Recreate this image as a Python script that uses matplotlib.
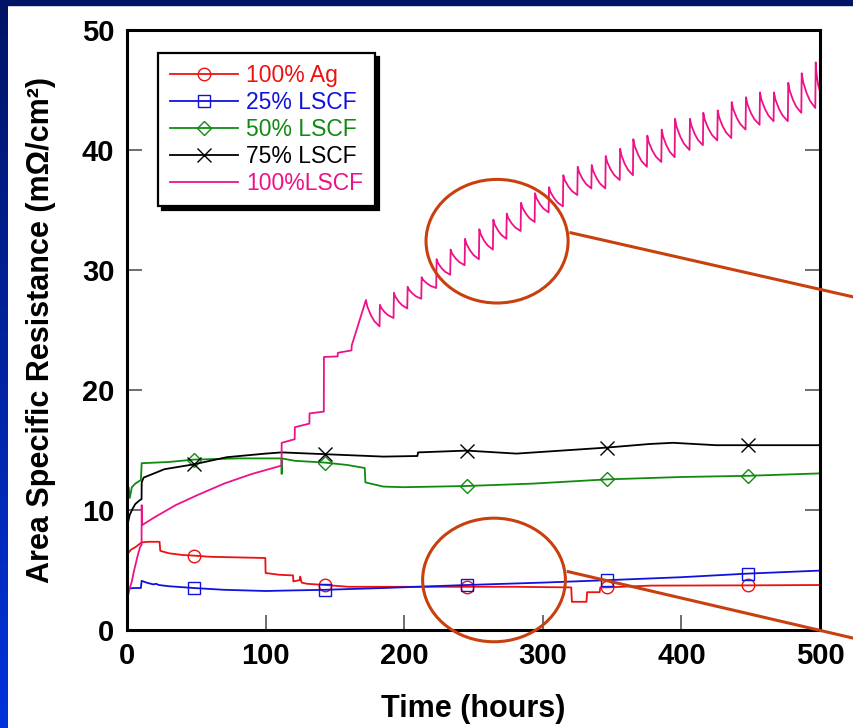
import matplotlib
matplotlib.use("Agg")
import matplotlib.pyplot as plt
import numpy as np
from matplotlib.patches import Ellipse, Rectangle

plt.rcParams['font.family'] = ['Liberation Sans', 'DejaVu Sans']

# ---- data (time in hours, ASR in mOhm/cm2) ----
mark_t = [48, 143, 245, 346, 448]

t_ag = [0, 3, 6, 10.6, 15, 23.5, 24, 30, 40, 48, 60, 80, 99.8, 100, 110, 119.8, 120,
        124.5, 125, 126, 130, 143, 160, 200, 245, 280, 320.5, 321, 331.5, 332, 341,
        341.5, 346, 378, 448, 500]
asr_ag = [6.3, 6.7, 6.9, 7.3, 7.35, 7.35, 6.6, 6.4, 6.25, 6.2, 6.1, 6.05, 6.0, 4.75, 4.6,
          4.55, 4.05, 4.15, 4.45, 3.95, 3.85, 3.75, 3.6, 3.6, 3.6, 3.6, 3.55, 2.35, 2.35,
          3.15, 3.15, 3.55, 3.55, 3.7, 3.72, 3.75]

t_25 = [0, 1.2, 5, 10, 10.6, 14, 19, 21, 23, 30, 48, 70, 100, 120, 143, 185, 245, 300,
        346, 400, 448, 500]
asr_25 = [3.05, 3.45, 3.5, 3.5, 4.1, 3.95, 3.8, 3.85, 3.75, 3.65, 3.5, 3.35, 3.25, 3.3,
          3.35, 3.5, 3.75, 3.95, 4.15, 4.4, 4.7, 4.95]

t_50 = [0, 1.2, 2, 3.5, 6, 10, 10.6, 30, 48, 80, 111.5, 111.6, 111.7, 121, 143, 159,
        171.5, 172, 185, 200, 245, 293, 346, 400, 448, 500]
asr_50 = [11.1, 11.9, 11.0, 11.9, 12.2, 12.5, 13.9, 14.0, 14.2, 14.3, 14.3, 13.0, 14.3,
          14.1, 13.95, 13.75, 13.5, 12.3, 11.95, 11.9, 12.0, 12.2, 12.55, 12.75, 12.85, 13.05]

t_75 = [0, 2, 4, 6, 9, 10.5, 10.6, 12, 27, 48, 72, 100, 111.6, 143, 185, 209.5, 210,
        245, 281, 320, 346, 377, 394, 425, 448, 500]
asr_75 = [8.6, 9.6, 10.1, 10.5, 10.8, 10.9, 12.3, 12.7, 13.4, 13.8, 14.4, 14.7, 14.8,
          14.65, 14.45, 14.5, 14.8, 14.95, 14.7, 15.0, 15.2, 15.5, 15.6, 15.4, 15.4, 15.4]

# 100% LSCF: early part, then the saw-tooth cycles
t_100 = [0, 1, 2, 3.4, 5, 7.5, 9.4, 10.5, 10.6, 11, 20, 35, 50, 70, 90, 111.5, 111.6,
         121, 121.1, 131.6, 131.7, 142, 142.1, 152, 152.1, 162, 162.1]
asr_100 = [2.4, 3.0, 3.5, 4.0, 4.9, 6.1, 6.9, 7.1, 10.4, 8.75, 9.4, 10.4, 11.2, 12.2,
           13.0, 13.7, 15.6, 15.9, 16.9, 17.2, 18.05, 18.2, 22.75, 22.8, 23.1, 23.3, 23.7]
tooth_t = [172.4, 182.5, 192.6, 202.5, 212.6, 223.4, 233.5, 243.9, 254.2, 264.3, 274.0,
           284.3, 294.4, 304.5, 314.8, 325.2, 335.3, 345.4, 355.8, 365.3, 375.4, 385.8,
           395.4, 406.2, 415.8, 426.2, 436.3, 446.6, 456.7, 466.8, 477.1, 486.8, 496.9]
tooth_peak = [27.5, 27.1, 28.1, 28.6, 29.4, 30.9, 31.7, 32.6, 33.4, 34.2, 34.7, 35.6,
              36.4, 36.9, 37.9, 38.6, 38.75, 39.5, 40.1, 40.9, 41.2, 41.7, 42.6, 42.6,
              43.1, 43.3, 44.0, 44.4, 44.8, 44.8, 45.6, 46.4, 47.3]
tooth_low = [25.3, 26.0, 26.8, 27.6, 28.5, 29.6, 30.4, 30.9, 31.7, 32.6, 33.25, 34.0,
             34.8, 35.3, 36.25, 36.8, 36.8, 37.5, 37.9, 38.6, 39.0, 39.4, 40.0, 40.4,
             40.8, 41.0, 41.7, 42.1, 42.4, 42.4, 43.1, 43.5, 44.9]
# shape of one tooth (fraction of cycle, fraction of drop)
shape_t = [0, 0.1, 0.35, 0.6, 0.97]
shape_d = [0, 0.25, 0.57, 0.8, 1.0]

ends = tooth_t[1:] + [500]
for t0, t1, pk, lo in zip(tooth_t, ends, tooth_peak, tooth_low):
    for ft, fd in zip(shape_t, shape_d):
        t_100.append(t0 + ft * (t1 - t0))
        asr_100.append(pk - fd * (pk - lo))

labels = ['100% Ag', '25% LSCF', '50% LSCF', '75% LSCF', '100%LSCF']
colors = ['#EE1111', '#1111DD', '#118A11', '#000000', '#EE1289']

fig = plt.figure(figsize=(8.54, 7.28), dpi=100)

# slide decoration: navy top band and blue strip on the left
fig.patches.append(Rectangle((0, 723 / 728), 1, 5 / 728, transform=fig.transFigure,
                             color='#001466', zorder=0))
strip = fig.add_axes([0, 0, 8 / 854, 723 / 728])
grad = np.linspace(0, 1, 256).reshape(-1, 1)
strip.imshow(grad, aspect='auto', cmap=matplotlib.colors.LinearSegmentedColormap.from_list(
    'bl', ['#001466', '#0033DD']))
strip.axis('off')

ax = fig.add_axes([127 / 854, 98 / 728, 693 / 854, 600 / 728])

series = [(t_ag, asr_ag, 'o'), (t_25, asr_25, 's'), (t_50, asr_50, 'D'), (t_75, asr_75, 'x')]
for (t, v, m), lab, c in zip(series, labels, colors):
    idx = [t.index(x) for x in mark_t]
    ax.plot(t, v, color=c, lw=1.3, marker=m, markevery=idx,
            ms={'o': 9, 's': 9, 'D': 7.5, 'x': 10}[m],
            mfc='none', mec=c, mew=1.0, label=lab)
ax.plot(t_100, asr_100, color=colors[4], lw=1.3, label=labels[4])

ax.set_xlim(0, 500)
ax.set_ylim(0, 50)
ax.set_xticks(range(0, 501, 100))
ax.set_yticks(range(0, 51, 10))
ax.yaxis.set_ticks_position('both')
ax.tick_params(direction='in', length=11, width=1.2, color='#555555', labelsize=21, pad=9)
for lbl in ax.get_xticklabels() + ax.get_yticklabels():
    lbl.set_fontweight('bold')
for s in ax.spines.values():
    s.set_linewidth(2.2)

ax.set_xlabel('Time (hours)', fontsize=22, fontweight='bold', labelpad=17)
ax.set_ylabel('Area Specific Resistance (mΩ/cm²)', fontsize=22, fontweight='bold', labelpad=19)

leg = ax.legend(loc='upper left', bbox_to_anchor=(0.045, 0.962), borderaxespad=0,
                fontsize=16.5, handlelength=3.0, handletextpad=0.35, labelspacing=0.17,
                borderpad=0.5, fancybox=False, framealpha=1, edgecolor='black',
                labelcolor='linecolor',
                shadow={'ox': 3, 'oy': -3, 'facecolor': 'black', 'edgecolor': 'black', 'alpha': 1})
leg.get_frame().set_linewidth(1.6)

# orange highlight ellipses and pointer lines
oc = '#C8400E'
ax.add_patch(Ellipse((267, 32.4), 102.5, 10.3, fill=False, edgecolor=oc, lw=2.2,
                     clip_on=False, zorder=6))
ax.add_patch(Ellipse((264.8, 4.17), 103, 10.3, fill=False, edgecolor=oc, lw=2.2,
                     clip_on=False, zorder=6))
ax.plot([320.3, 530], [33.1, 27.6], color=oc, lw=2.2, clip_on=False, zorder=6)
ax.plot([318.4, 530], [4.86, -0.84], color=oc, lw=2.2, clip_on=False, zorder=6)

fig.savefig('out.png', dpi=100)
